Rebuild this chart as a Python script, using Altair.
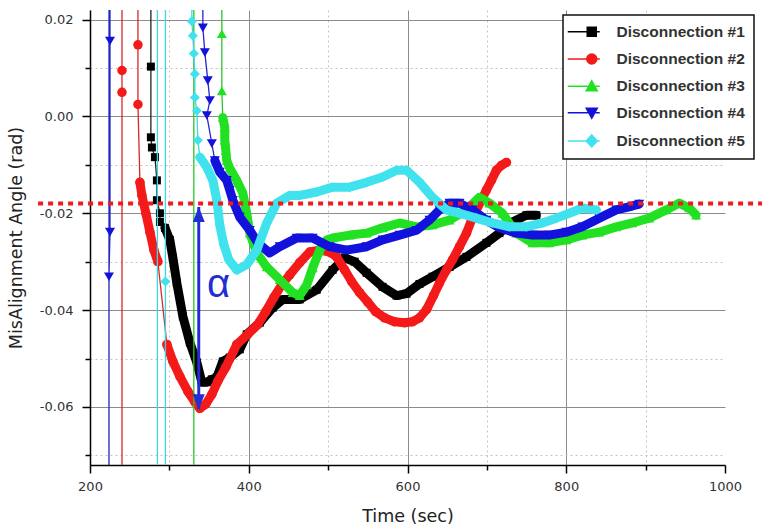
import altair as alt
import pandas as pd

# ---------------- categories / styles ----------------
SERIES = ["Disconnection #1", "Disconnection #2", "Disconnection #3",
          "Disconnection #4", "Disconnection #5"]
BAND_COLORS = ["#000000", "#f41a1a", "#22e022", "#1212dc", "#40e2ee"]
THIN_COLORS = ["#202020", "#d42a2a", "#2ac42a", "#2626c8", "#3cd6e4"]
MARKERS = ["square", "circle", "triangle-up", "triangle-down", "diamond"]
MARKER_SIZES = [64, 90, 100, 100, 100]
LEGEND_SYMBOLS = [
    "M-4.8,0H1.6M-0.9,-0.9H0.9V0.9H-0.9Z",
    "M-4.8,0H1.6M-1,0A1,1 0 1,0 1,0A1,1 0 1,0 -1,0Z",
    "M-4.8,0H1.6M0,-1.1L1.1,0.9L-1.1,0.9Z",
    "M-4.8,0H1.6M-1.1,-0.9L1.1,-0.9L0,1.1Z",
    "M-4.8,0H1.6M0,-1.2L1.1,0L0,1.2L-1.1,0Z",
]

x_ticks = [200, 300, 400, 500, 600, 700, 800, 900, 1000]
y_ticks = [-0.07, -0.06, -0.05, -0.04, -0.03, -0.02, -0.01, 0.0, 0.01, 0.02]

# ---------------- series data (time s, angle rad) ----------------
# Disconnection #1
t1_jump = [276.7, 276.7, 276.7, 278.0, 281.8, 284.3, 284.3, 288.1, 288.1]
v1_jump = [0.5, 0.0103, -0.0043, -0.0064, -0.0084, -0.0132, -0.0173, -0.0200, -0.0218]
t1_band = [294.4, 300.6, 304.4, 309.4, 317.0, 325.8, 334.6, 340.9, 347.2, 353.5, 359.8,
           367.3, 376.1, 388.7, 397.5, 413.9, 430.2, 442.8, 464.2, 485.6, 505.7, 520.8,
           533.4, 548.5, 568.6, 586.2, 598.8, 615.1, 631.5, 652.9, 674.3, 699.4, 715.8,
           732.1, 749.7, 762.3]
v1_band = [-0.0230, -0.0255, -0.0292, -0.0344, -0.0413, -0.0467, -0.0508, -0.0549, -0.0549,
           -0.0543, -0.0539, -0.0506, -0.0498, -0.0481, -0.0450, -0.0426, -0.0395, -0.0378,
           -0.0378, -0.0358, -0.0317, -0.0292, -0.0300, -0.0323, -0.0352, -0.0370, -0.0366,
           -0.0346, -0.0331, -0.0311, -0.0290, -0.0261, -0.0241, -0.0218, -0.0204, -0.0204]

# Disconnection #2
t2_jump = [240.3, 240.3, 240.3, 240.3, 260.4, 260.4, 260.4]
v2_jump = [-0.5, 0.0050, 0.0095, 0.5, 0.5, 0.0148, 0.0025]
t2_band_a = [262.9, 265.4, 270.4, 275.5, 280.5, 285.5]
v2_band_a = [-0.0136, -0.0163, -0.0200, -0.0239, -0.0276, -0.0300]
t2_band_b = [296.9, 304.4, 313.2, 323.3, 332.1, 338.4, 345.9, 353.5, 361.0, 371.1, 384.9,
             398.8, 411.3, 421.4, 431.5, 441.5, 451.6, 464.2, 476.8, 489.3, 501.9, 510.7,
             520.8, 529.6, 539.7, 549.7, 559.8, 571.1, 583.7, 596.3, 606.3, 615.1, 624.0,
             632.8, 640.3, 649.1, 656.7, 665.5, 674.3, 680.6, 686.8, 693.1, 699.4, 705.7,
             712.0, 718.3, 724.6]
v2_band_b = [-0.0471, -0.0506, -0.0537, -0.0568, -0.0590, -0.0603, -0.0594, -0.0574, -0.0547,
             -0.0518, -0.0471, -0.0450, -0.0430, -0.0403, -0.0374, -0.0348, -0.0327, -0.0302,
             -0.0280, -0.0276, -0.0280, -0.0290, -0.0317, -0.0341, -0.0364, -0.0383, -0.0403,
             -0.0416, -0.0424, -0.0426, -0.0424, -0.0416, -0.0399, -0.0370, -0.0344, -0.0317,
             -0.0296, -0.0269, -0.0241, -0.0214, -0.0193, -0.0173, -0.0152, -0.0132, -0.0111,
             -0.0101, -0.0095]

# Disconnection #3
t3_jump = [330.8, 330.8, 366.1, 366.1, 366.1]
v3_jump = [-0.5, 0.5, 0.5, 0.0171, 0.0053]
t3_band = [367.3, 369.8, 369.8, 371.1, 372.3, 376.1, 384.9, 392.5, 397.5, 401.3, 410.1,
           422.7, 439.0, 455.4, 464.2, 473.0, 480.5, 489.3, 498.1, 505.7, 527.1, 548.5,
           568.6, 590.0, 611.4, 631.5, 652.9, 674.3, 690.6, 703.2, 719.6, 737.2, 757.3,
           778.7, 800.1, 820.2, 841.6, 863.0, 883.1, 904.5, 925.9, 942.2, 954.8, 963.6]
v3_band = [-0.0002, -0.0023, -0.0049, -0.0070, -0.0091, -0.0107, -0.0132, -0.0158, -0.0200,
           -0.0241, -0.0282, -0.0311, -0.0337, -0.0364, -0.0370, -0.0348, -0.0313, -0.0276,
           -0.0255, -0.0251, -0.0245, -0.0241, -0.0230, -0.0220, -0.0228, -0.0224, -0.0214,
           -0.0193, -0.0167, -0.0179, -0.0200, -0.0241, -0.0261, -0.0261, -0.0255, -0.0245,
           -0.0239, -0.0228, -0.0220, -0.0210, -0.0193, -0.0179, -0.0189, -0.0204]

# Disconnection #4
t4_jump = [225.2, 225.2, 225.2, 223.9, 223.9, 224.0, 343.4, 342.2, 344.7, 348.4, 351.0,
           347.2, 353.5]
v4_jump = [0.5, 0.0156, -0.0239, -0.0331, -0.5, 0.5, 0.5, 0.0183, 0.0132, 0.0074, 0.0033,
           0.0002, -0.0056]
t4_band = [357.3, 363.5, 372.3, 376.1, 379.9, 388.7, 401.3, 411.3, 426.4, 439.0, 460.4,
           480.5, 501.9, 523.3, 548.5, 568.6, 590.0, 611.4, 627.7, 640.3, 652.9, 665.5,
           681.8, 699.4, 715.8, 737.2, 757.3, 778.7, 800.1, 820.2, 841.6, 863.0, 883.1, 891.9]
v4_band = [-0.0091, -0.0115, -0.0132, -0.0152, -0.0173, -0.0208, -0.0235, -0.0261, -0.0282,
           -0.0269, -0.0251, -0.0251, -0.0269, -0.0276, -0.0269, -0.0255, -0.0245, -0.0235,
           -0.0214, -0.0193, -0.0179, -0.0179, -0.0193, -0.0214, -0.0230, -0.0241, -0.0245,
           -0.0245, -0.0239, -0.0228, -0.0210, -0.0193, -0.0185, -0.0181]

# Disconnection #5
t5_jump = [284.9, 284.9, 295.0, 295.0, 295.0, 295.1, 328.3, 328.3, 329.6, 330.8, 332.1,
           332.1, 334.6, 335.9]
v5_jump = [-0.5, 0.5, 0.5, -0.0341, -0.5, 0.5, 0.5, 0.0197, 0.0167, 0.0130, 0.0088,
           0.0039, 0.0012, -0.0049]
t5_band = [338.4, 347.2, 354.7, 359.8, 363.5, 368.6, 374.9, 384.9, 397.5, 410.1, 422.7,
           435.2, 451.6, 464.2, 485.6, 505.7, 527.1, 548.5, 568.6, 586.2, 598.8, 615.1,
           631.5, 649.1, 665.5, 686.8, 707.0, 728.4, 749.7, 769.9, 787.5, 803.8, 820.2, 837.8]
v5_band = [-0.0084, -0.0105, -0.0132, -0.0173, -0.0224, -0.0265, -0.0296, -0.0317, -0.0306,
           -0.0276, -0.0220, -0.0179, -0.0163, -0.0163, -0.0156, -0.0146, -0.0146, -0.0136,
           -0.0125, -0.0111, -0.0111, -0.0136, -0.0167, -0.0193, -0.0200, -0.0210, -0.0220,
           -0.0228, -0.0228, -0.0220, -0.0210, -0.0200, -0.0189, -0.0193]

# reference level and alpha annotation
ref_level = -0.018
ref_span = [134.6, 1046.6]
alpha_t = 337.0
alpha_top = -0.0187
alpha_bottom = -0.0605
alpha_label_t = 362.0
alpha_label_v = -0.0372

# ---------------- assemble table ----------------
runs = {
    SERIES[0]: [(t1_jump, v1_jump), (t1_band, v1_band)],
    SERIES[1]: [(t2_jump, v2_jump), (t2_band_a, v2_band_a), (t2_band_b, v2_band_b)],
    SERIES[2]: [(t3_jump, v3_jump), (t3_band, v3_band)],
    SERIES[3]: [(t4_jump, v4_jump), (t4_band, v4_band)],
    SERIES[4]: [(t5_jump, v5_jump), (t5_band, v5_band)],
}
rows = []
for name, parts in runs.items():
    seq = 0
    for band_id, (ts, vs) in enumerate(parts):
        for t, v in zip(ts, vs):
            rows.append({"series": name, "t": t, "v": v, "seq": seq, "band": band_id})
            seq += 1
df = pd.DataFrame(rows)

ref_df = pd.DataFrame({"t": [ref_span[0]], "t2": [ref_span[1]], "v": [ref_level]})
arrow_df = pd.DataFrame({"t": [alpha_t], "v": [alpha_top], "bottom": [alpha_bottom]})
arrow_bot_df = pd.DataFrame({"t": [alpha_t], "v": [alpha_bottom]})
alpha_df = pd.DataFrame({"t": [alpha_label_t], "v": [alpha_label_v], "label": ["α"]})

# ---------------- scales / axes ----------------
xs = alt.Scale(domain=[200, 1000], nice=False, zero=False)
ys = alt.Scale(domain=[-0.072, 0.022], nice=False, zero=False)

x_minor = "datum.value % 200 != 0"
y_minor = "abs(round(datum.value * 100)) % 2 == 1"

x_axis = alt.Axis(
    values=x_ticks, title="Time (sec)", grid=True, labelOverlap=False, labelFlush=False,
    labelExpr=f"{x_minor} ? '' : datum.label", format="d",
    gridColor={"condition": {"test": x_minor, "value": "#c4c4c4"}, "value": "#8c8c8c"},
    gridDash={"condition": {"test": x_minor, "value": [2, 3]}, "value": []},
    gridOpacity={"condition": {"test": "datum.value >= 1000", "value": 0}, "value": 1},
    tickSize={"condition": {"test": x_minor, "value": 5}, "value": 8},
    tickColor="#000", tickWidth=1.5, domainColor="#000", domainWidth=1.5,
    labelFont="DejaVu Sans", labelFontSize=13, labelColor="#333", labelPadding=7,
    titleFont="DejaVu Sans", titleFontSize=17.5, titleFontWeight="normal",
    titleColor="#222", titlePadding=14,
)
y_axis = alt.Axis(
    values=y_ticks, title="MisAlignment Angle (rad)", grid=True, labelOverlap=False,
    labelFlush=False,
    labelExpr=f"{y_minor} ? '' : replace(format(datum.value, '.2f'), '\u2212', '-')",
    gridColor={"condition": {"test": y_minor, "value": "#c4c4c4"}, "value": "#8c8c8c"},
    gridDash={"condition": {"test": y_minor, "value": [2, 3]}, "value": []},
    tickSize={"condition": {"test": y_minor, "value": 5}, "value": 8},
    tickColor="#000", tickWidth=1.5, domainColor="#000", domainWidth=1.5,
    labelFont="DejaVu Sans", labelFontSize=13, labelColor="#333", labelPadding=9,
    titleFont="DejaVu Sans", titleFontSize=17.5, titleFontWeight="normal",
    titleColor="#222", titlePadding=14,
)

def X(field="t"):
    return alt.X(f"{field}:Q", scale=xs, axis=x_axis)

def Y(field="v"):
    return alt.Y(f"{field}:Q", scale=ys, axis=y_axis)

base = alt.Chart(df)
layers = []
for i, name in enumerate(SERIES):
    sub = base.transform_filter(alt.datum.series == name)
    thin = sub.mark_line(color=THIN_COLORS[i], strokeWidth=1.3, clip=True).encode(
        x=X(), y=Y(), order="seq:Q")
    band = sub.transform_filter(alt.datum.band > 0).mark_line(
        color=BAND_COLORS[i], strokeWidth=9, strokeCap="round", strokeJoin="round",
        clip=True).encode(x=X(), y=Y(), detail="band:N", order="seq:Q")
    pts = sub.mark_point(shape=MARKERS[i], filled=True, size=MARKER_SIZES[i],
                         color=BAND_COLORS[i], opacity=1, strokeWidth=0,
                         clip=True).encode(x=X(), y=Y())
    layers += [thin, band, pts]

ref_rule = alt.Chart(ref_df).mark_rule(color="#ee1c1c", strokeWidth=4, strokeDash=[5, 5],
                                       clip=False).encode(
    x=X(), x2="t2:Q", y=Y())

arrow_line = alt.Chart(arrow_df).mark_rule(color="#1f2fd4", strokeWidth=3).encode(
    x=X(), y=Y(), y2="bottom:Q")
arrow_top = alt.Chart(arrow_df).mark_point(shape="M0,0L1.2,3L-1.2,3Z", filled=True, size=100,
                                           color="#1f2fd4", opacity=1).encode(x=X(), y=Y())
arrow_bot = alt.Chart(arrow_bot_df).mark_point(shape="M0,0L1.2,-3L-1.2,-3Z", filled=True,
                                               size=100, color="#1f2fd4",
                                               opacity=1).encode(x=X(), y=Y())
alpha_txt = alt.Chart(alpha_df).mark_text(font="Liberation Sans", fontSize=40,
                                          color="#1f2fd4", baseline="alphabetic",
                                          align="center").encode(x=X(), y=Y(), text="label:N")

LEG = alt.Legend(title=None, orient="none", legendX=473, legendY=5, padding=9,
                 strokeColor="#111111", fillColor="white", symbolSize=100,
                 symbolStrokeWidth=1.5, symbolOffset=12, labelOffset=17,
                 labelFont="Liberation Sans", labelFontSize=15.5, labelFontWeight="bold",
                 labelColor="#333333", rowPadding=9.3, labelLimit=300)
legend_layer = alt.Chart(df).transform_filter("false").mark_point(
    filled=True, opacity=1, clip=True).encode(
    x=X(), y=Y(),
    fill=alt.Fill("series:N", scale=alt.Scale(domain=SERIES, range=BAND_COLORS), legend=LEG),
    stroke=alt.Stroke("series:N", scale=alt.Scale(domain=SERIES, range=BAND_COLORS), legend=LEG),
    shape=alt.Shape("series:N", scale=alt.Scale(domain=SERIES, range=LEGEND_SYMBOLS), legend=LEG),
)

chart = alt.layer(*layers, ref_rule, arrow_line, arrow_top, arrow_bot, alpha_txt,
                  legend_layer).properties(
    width=635, height=455,
    padding={"left": 90, "top": 10, "right": 38, "bottom": 63},
    autosize=alt.AutoSizeParams(type="none"),
    background="white",
).configure_view(stroke=None).configure_legend(strokeWidth=1.5)

chart.save("out.html", embed_options={"renderer": "svg", "actions": False})
